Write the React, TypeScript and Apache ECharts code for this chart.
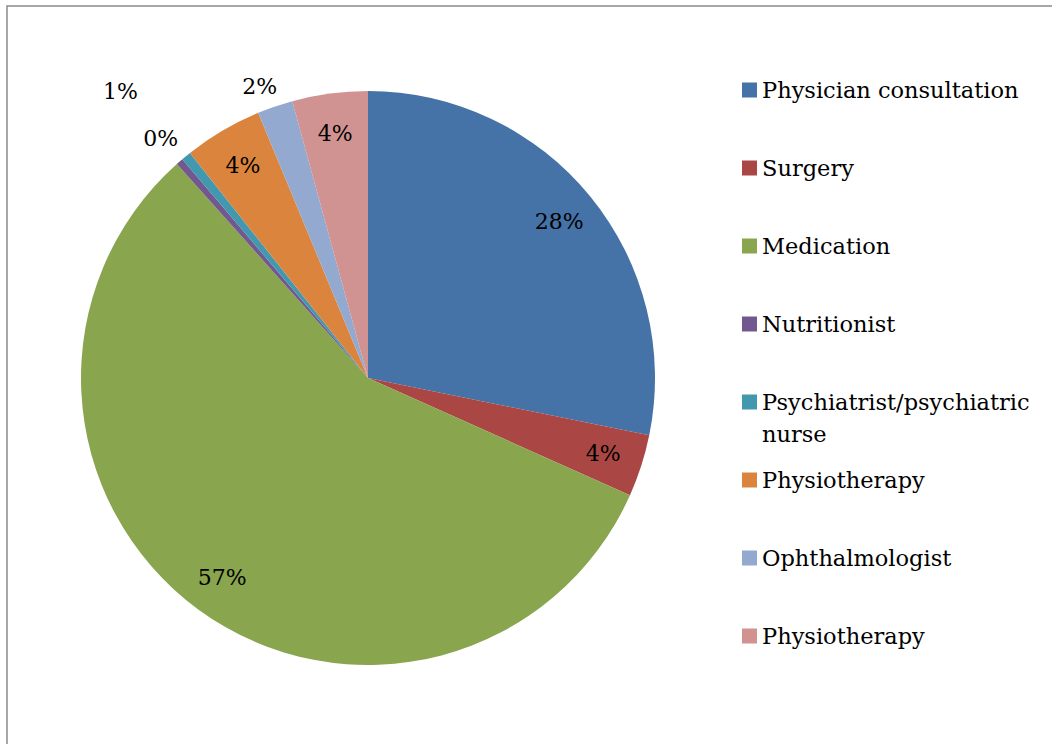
import React, { useEffect, useRef } from "react";
import * as echarts from "echarts";

const categories = [
  "Physician consultation",
  "Surgery",
  "Medication",
  "Nutritionist",
  "Psychiatrist/psychiatric nurse",
  "Physiotherapy",
  "Ophthalmologist",
  "Physiotherapy",
];
const shares = [28.2, 3.5, 56.7, 0.4, 0.55, 4.4, 2.0, 4.25];
const colors = ["#4572A7", "#AA4643", "#89A54E", "#71588F", "#4198AF", "#DB843D", "#93A9CF", "#D19392"];

// label placement style for the thin slices (outside the pie)
const outsideLabelStyle: Record<number, { length: number; length2: number }> = {
  3: { length: 31, length2: -19 },
  4: { length: 84, length2: -5 },
  6: { length: 21, length2: -9 },
};

const FONT = "DejaVu Serif";
const WRAP_NAME = "Psychiatrist/psychiatric nurse";

export default function App() {
  const ref = useRef<HTMLDivElement>(null);
  useEffect(() => {
    if (!ref.current) return;
    const chart = echarts.init(ref.current, undefined, { renderer: "svg" });
    const seen: Record<string, number> = {};
    const names = categories.map((c) => {
      seen[c] = (seen[c] || 0) + 1;
      return seen[c] > 1 ? c + " ".repeat(seen[c] - 1) : c;
    });
    const baseData = names.map((n, i) => ({ name: n, value: shares[i], itemStyle: { color: colors[i] } }));
    const labelData = names.map((n, i) => {
      const o = outsideLabelStyle[i];
      const item: any = { name: n, value: shares[i] };
      if (o) {
        item.label = { position: "outside", distanceToLabelLine: 0 };
        item.labelLine = { show: false, length: o.length, length2: o.length2 };
      }
      return item;
    });
    const wrapWords = WRAP_NAME.split(" ");
    chart.setOption({
      animation: false,
      backgroundColor: "#ffffff",
      graphic: [
        {
          type: "rect",
          silent: true,
          shape: { x: 7, y: 6, width: 1300, height: 1000 },
          style: { fill: "none", stroke: "#8a8a8a", lineWidth: 1.5 },
        },
        {
          type: "text",
          silent: true,
          x: 762,
          y: 434,
          style: {
            text: wrapWords[wrapWords.length - 1],
            fontFamily: FONT,
            fontSize: 22.5,
            fill: "#000",
            verticalAlign: "middle",
            align: "left",
          },
        },
      ],
      legend: {
        orient: "vertical",
        left: 742,
        top: 75,
        padding: 0,
        itemWidth: 15,
        itemHeight: 15,
        itemGap: 48,
        icon: "rect",
        selectedMode: false,
        formatter: (name: string) => {
          const t = name.trim();
          return t === WRAP_NAME ? wrapWords.slice(0, -1).join(" ") : t;
        },
        textStyle: { fontFamily: FONT, fontSize: 22.5, color: "#000", lineHeight: 30, height: 30 },
      },
      series: [
        {
          type: "pie",
          center: [368, 378],
          radius: [0, 287],
          startAngle: 90,
          clockwise: true,
          silent: true,
          label: { show: false },
          labelLine: { show: false },
          itemStyle: { borderWidth: 0 },
          data: baseData,
        },
        {
          type: "pie",
          center: [368, 378],
          radius: [201, 287],
          startAngle: 90,
          clockwise: true,
          silent: true,
          avoidLabelOverlap: false,
          itemStyle: { color: "rgba(0,0,0,0)", borderWidth: 0 },
          label: {
            show: true,
            position: "inside",
            fontFamily: FONT,
            fontSize: 22,
            color: "#000",
            formatter: (p: any) => Math.round(p.percent) + "%",
          },
          labelLine: { show: false },
          data: labelData,
        },
      ],
    });
    return () => chart.dispose();
  }, []);
  return <div ref={ref} style={{ position: "fixed", left: 0, top: 0, width: 1052, height: 744 }} />;
}
